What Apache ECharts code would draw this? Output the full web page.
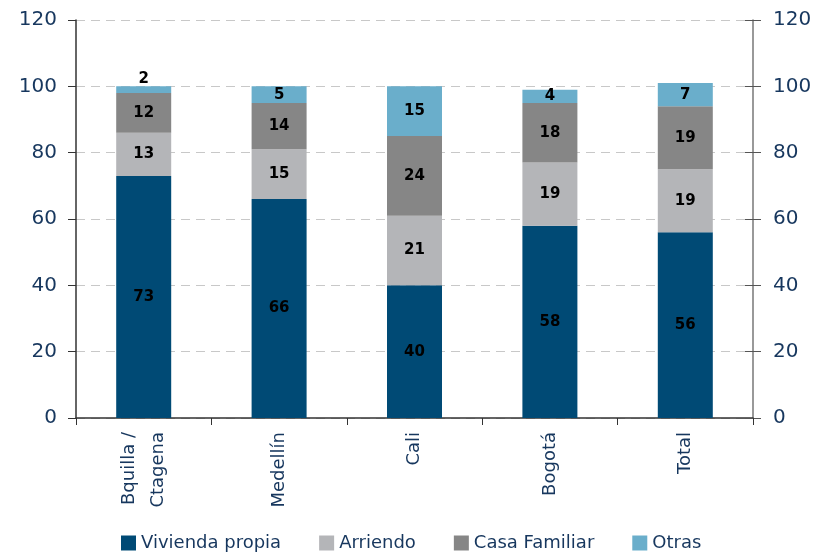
<!DOCTYPE html>
<html>
<head>
<meta charset="utf-8">
<script src="https://cdn.jsdelivr.net/npm/echarts@6/dist/echarts.min.js"></script>
<style>
    html, body { margin: 0; padding: 0; background: #fff; }
    #chart { width: 815px; height: 558px; }
</style>
</head>
<body>
<div id="chart"></div>
<script>
var categories = ['Bquilla /\nCtagena', 'Medellín', 'Cali', 'Bogotá', 'Total']
var vivienda = [73, 66, 40, 58, 56]
var arriendo = [13, 15, 21, 19, 19]
var casaFamiliar = [12, 14, 24, 18, 19]
var otras = [2, 5, 15, 4, 7]
var yTicks = [0, 20, 40, 60, 80, 100, 120]

window.onload = function () {
    var chart = echarts.init(document.getElementById('chart'))
    var font = 'DejaVu Sans'
    var navy = '#17375e'

    var labelStyle = {
        show: true,
        position: 'inside',
        color: '#000',
        fontFamily: font,
        fontWeight: 'bold',
        fontSize: 15
    }

    function makeSeries(name, data, color) {
        return {
            name: name,
            type: 'bar',
            stack: 'total',
            barWidth: 55,
            data: data,
            itemStyle: { color: color },
            label: labelStyle
        }
    }

    // the tiny "2" sits on top of the first bar
    var otrasData = otras.map(function (v, i) {
        if (i === 0) return { value: v, label: { position: 'top', distance: 0 } }
        return v
    })

    var yAxisBase = {
        type: 'value',
        min: yTicks[0],
        max: yTicks[yTicks.length - 1],
        interval: 20,
        axisLine: { show: true, lineStyle: { color: '#333', width: 1.5 } },
        axisTick: { show: true, inside: false, length: 8, lineStyle: { color: '#333' } },
        axisLabel: { color: navy, fontFamily: font, fontSize: 20, margin: 19 }
    }

    var option = {
        animation: false,
        textStyle: { fontFamily: font },
        grid: { left: 76, right: 62, top: 20, bottom: 140, containLabel: false },
        legend: {
            bottom: 1,
            left: 116,
            itemWidth: 15,
            itemHeight: 15,
            itemGap: 38,
            icon: 'rect',
            textStyle: { color: navy, fontFamily: font, fontSize: 18 },
            data: ['Vivienda propia', 'Arriendo', 'Casa Familiar', 'Otras']
        },
        xAxis: {
            type: 'category',
            data: categories,
            axisLine: { lineStyle: { color: '#333', width: 1.5 } },
            axisTick: { show: true, length: 7, lineStyle: { color: '#333' } },
            axisLabel: {
                rotate: 90,
                interval: 0,
                color: navy,
                fontFamily: font,
                fontSize: 18,
                lineHeight: 29,
                margin: 14
            }
        },
        yAxis: [
            Object.assign({}, yAxisBase, {
                position: 'left',
                splitLine: { show: true, lineStyle: { color: '#c8c8c8', type: [9, 6], width: 1 } }
            }),
            Object.assign({}, yAxisBase, {
                position: 'right',
                axisLine: { show: true, lineStyle: { color: '#777', width: 1.5 } },
                axisTick: { show: true, inside: false, length: 8, lineStyle: { color: '#555' } },
                axisLabel: { color: navy, fontFamily: font, fontSize: 20, margin: 20 },
                splitLine: { show: false }
            }),
            // right axis ticks also cross into the plot
            Object.assign({}, yAxisBase, {
                position: 'right',
                axisLine: { show: false },
                axisTick: { show: true, inside: true, length: 8, lineStyle: { color: '#555' } },
                axisLabel: { show: false },
                splitLine: { show: false }
            })
        ],
        series: [
            makeSeries('Vivienda propia', vivienda, '#004a75'),
            makeSeries('Arriendo', arriendo, '#b4b5b8'),
            makeSeries('Casa Familiar', casaFamiliar, '#868686'),
            makeSeries('Otras', otrasData, '#6aaecb')
        ]
    }
    chart.setOption(option)
}
</script>
</body>
</html>
